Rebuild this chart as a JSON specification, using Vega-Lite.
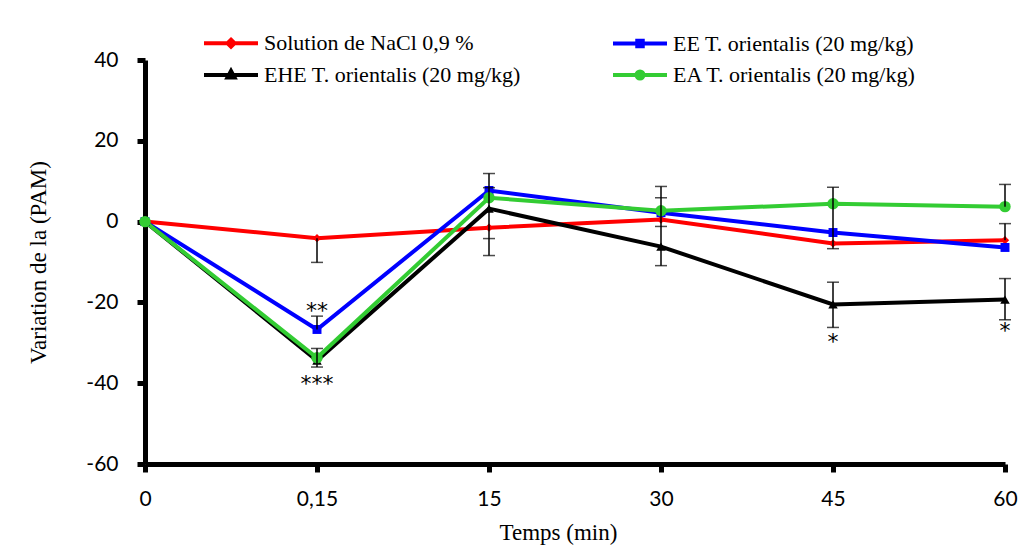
{
  "$schema": "https://vega.github.io/schema/vega-lite/v6.json",
  "width": 860,
  "height": 404,
  "autosize": {"type": "none"},
  "padding": {"left": 145, "top": 60, "right": 19, "bottom": 92},
  "background": "white",
  "datasets": {
    "lines": [
      {"t": "0", "series": "Solution de NaCl 0,9 %", "v": 0},
      {"t": "0,15", "series": "Solution de NaCl 0,9 %", "v": -4.1},
      {"t": "15", "series": "Solution de NaCl 0,9 %", "v": -1.5},
      {"t": "30", "series": "Solution de NaCl 0,9 %", "v": 0.5},
      {"t": "45", "series": "Solution de NaCl 0,9 %", "v": -5.4},
      {"t": "60", "series": "Solution de NaCl 0,9 %", "v": -4.6},
      {"t": "0", "series": "EE  T. orientalis (20 mg/kg)", "v": 0},
      {"t": "0,15", "series": "EE  T. orientalis (20 mg/kg)", "v": -26.7},
      {"t": "15", "series": "EE  T. orientalis (20 mg/kg)", "v": 7.7},
      {"t": "30", "series": "EE  T. orientalis (20 mg/kg)", "v": 2.2},
      {"t": "45", "series": "EE  T. orientalis (20 mg/kg)", "v": -2.7},
      {"t": "60", "series": "EE  T. orientalis (20 mg/kg)", "v": -6.4},
      {"t": "0", "series": "EHE  T. orientalis (20 mg/kg)", "v": 0},
      {"t": "0,15", "series": "EHE  T. orientalis (20 mg/kg)", "v": -34.4},
      {"t": "15", "series": "EHE  T. orientalis (20 mg/kg)", "v": 3.2},
      {"t": "30", "series": "EHE  T. orientalis (20 mg/kg)", "v": -6.2},
      {"t": "45", "series": "EHE  T. orientalis (20 mg/kg)", "v": -20.5},
      {"t": "60", "series": "EHE  T. orientalis (20 mg/kg)", "v": -19.3},
      {"t": "0", "series": "EA  T. orientalis (20 mg/kg)", "v": 0},
      {"t": "0,15", "series": "EA  T. orientalis (20 mg/kg)", "v": -33.7},
      {"t": "15", "series": "EA  T. orientalis (20 mg/kg)", "v": 5.9},
      {"t": "30", "series": "EA  T. orientalis (20 mg/kg)", "v": 2.7},
      {"t": "45", "series": "EA  T. orientalis (20 mg/kg)", "v": 4.4},
      {"t": "60", "series": "EA  T. orientalis (20 mg/kg)", "v": 3.7}
    ],
    "err": [
      {"t": "0,15", "v": -10.1, "v2": -4.1},
      {"t": "0,15", "v": -26.7, "v2": -23.4},
      {"t": "0,15", "v": -36, "v2": -31.4},
      {"t": "15", "v": -8.4, "v2": 11.9},
      {"t": "30", "v": -10.9, "v2": 8.7},
      {"t": "45", "v": -6.7, "v2": 8.5},
      {"t": "45", "v": -26.2, "v2": -15},
      {"t": "60", "v": 3.7, "v2": 9.2},
      {"t": "60", "v": -4.6, "v2": -0.5},
      {"t": "60", "v": -24.3, "v2": -14.1}
    ],
    "caps": [
      {"t": "0,15", "v": -10.1}, {"t": "0,15", "v": -23.4}, {"t": "0,15", "v": -31.4}, {"t": "0,15", "v": -36},
      {"t": "15", "v": 11.9}, {"t": "15", "v": 8.4}, {"t": "15", "v": -4.2}, {"t": "15", "v": -8.4},
      {"t": "30", "v": 8.7}, {"t": "30", "v": 5.9}, {"t": "30", "v": -1.2}, {"t": "30", "v": -10.9},
      {"t": "45", "v": 8.5}, {"t": "45", "v": -6.7}, {"t": "45", "v": -15}, {"t": "45", "v": -26.2},
      {"t": "60", "v": 9.2}, {"t": "60", "v": -0.5}, {"t": "60", "v": -14.1}, {"t": "60", "v": -24.3}
    ],
    "ann": [
      {"t": "0,15", "v": -22.2, "label": "**"},
      {"t": "0,15", "v": -40.2, "label": "***"},
      {"t": "45", "v": -29.8, "label": "*"},
      {"t": "60", "v": -27.1, "label": "*"}
    ]
  },
  "encoding": {
    "x": {
      "field": "t",
      "type": "ordinal",
      "scale": {"type": "point", "padding": 0, "domain": ["0", "0,15", "15", "30", "45", "60"]},
      "axis": {"title": "Temps (min)", "labelAngle": 0, "labelPadding": 16, "titlePadding": 12, "titleX": 413, "titleAlign": "center"}
    },
    "y": {
      "field": "v",
      "type": "quantitative",
      "scale": {"domain": [-60, 40], "nice": false, "zero": false},
      "axis": {"title": "Variation de la (PAM)", "values": [-60, -40, -20, 0, 20, 40], "labelExpr": "'' + datum.value", "labelPadding": 19, "titlePadding": 35}
    }
  },
  "layer": [
    {
      "data": {"name": "lines"},
      "mark": {"type": "line", "strokeWidth": 4},
      "encoding": {
        "color": {
          "field": "series",
          "type": "nominal",
          "scale": {
            "domain": ["Solution de NaCl 0,9 %", "EHE  T. orientalis (20 mg/kg)", "EE  T. orientalis (20 mg/kg)", "EA  T. orientalis (20 mg/kg)"],
            "range": ["#FF0000", "#000000", "#0000FF", "#33CC33"]
          },
          "legend": {
            "title": null,
            "orient": "none",
            "legendX": 53,
            "legendY": -28,
            "columns": 2,
            "columnPadding": 78,
            "rowPadding": 8,
            "padding": 0,
            "labelFont": "Liberation Serif",
            "labelFontSize": 22,
            "labelColor": "#000000",
            "labelLimit": 400,
            "symbolSize": 100,
            "symbolOffset": 22,
            "labelOffset": 22,
            "encode": {
              "symbols": {
                "update": {
                  "shape": {"signal": "datum.value == 'Solution de NaCl 0,9 %' ? 'M-5.4,0H5.4M0,-0.7L0.7,0L0,0.7L-0.7,0Z' : datum.value == 'EHE  T. orientalis (20 mg/kg)' ? 'M-5.4,0H5.4M0,-0.8L0.7,0.5H-0.7Z' : datum.value == 'EE  T. orientalis (20 mg/kg)' ? 'M-5.4,0H5.4M-0.55,-0.55H0.55V0.55H-0.55Z' : 'M-5.4,0H5.4M-0.7,0A0.7,0.7 0 1,1 0.7,0A0.7,0.7 0 1,1 -0.7,0Z'"},
                  "stroke": {"signal": "scale('color', datum.value)"},
                  "fill": {"signal": "scale('color', datum.value)"},
                  "strokeWidth": {"value": 4},
                  "opacity": {"value": 1}
                }
              }
            }
          }
        }
      }
    },
    {
      "data": {"name": "lines"},
      "transform": [{"filter": {"field": "series", "equal": "Solution de NaCl 0,9 %"}}],
      "mark": {"type": "point", "filled": true, "opacity": 1, "shape": "diamond", "size": 70},
      "encoding": {"color": {"field": "series", "type": "nominal"}}
    },
    {
      "data": {"name": "lines"},
      "transform": [{"filter": {"field": "series", "equal": "EE  T. orientalis (20 mg/kg)"}}],
      "mark": {"type": "point", "filled": true, "opacity": 1, "shape": "square", "size": 80},
      "encoding": {"color": {"field": "series", "type": "nominal"}}
    },
    {
      "data": {"name": "lines"},
      "transform": [{"filter": {"field": "series", "equal": "EHE  T. orientalis (20 mg/kg)"}}],
      "mark": {"type": "point", "filled": true, "opacity": 1, "shape": "triangle-up", "size": 90},
      "encoding": {"color": {"field": "series", "type": "nominal"}}
    },
    {
      "data": {"name": "lines"},
      "transform": [{"filter": {"field": "series", "equal": "EA  T. orientalis (20 mg/kg)"}}],
      "mark": {"type": "point", "filled": true, "opacity": 1, "shape": "circle", "size": 130},
      "encoding": {"color": {"field": "series", "type": "nominal"}}
    },
    {
      "data": {"name": "err"},
      "mark": {"type": "rule", "color": "#000000", "strokeWidth": 1.5},
      "encoding": {"y2": {"field": "v2"}}
    },
    {
      "data": {"name": "caps"},
      "mark": {"type": "tick", "color": "#000000", "thickness": 1.5, "size": 12, "orient": "horizontal"}
    },
    {
      "data": {"name": "ann"},
      "mark": {"type": "text", "font": "DejaVu Sans", "fontSize": 22, "color": "#000000", "baseline": "middle", "align": "center"},
      "encoding": {"text": {"field": "label"}}
    }
  ],
  "config": {
    "view": {"stroke": null},
    "axis": {
      "grid": false,
      "domainColor": "#000000",
      "domainWidth": 5,
      "tickColor": "#000000",
      "tickWidth": 5,
      "tickSize": 8,
      "labelFont": "Lato",
      "labelFontSize": 21,
      "labelColor": "#000000",
      "titleFont": "Liberation Serif",
      "titleFontSize": 23,
      "titleFontWeight": "normal",
      "titleColor": "#000000"
    }
  }
}
